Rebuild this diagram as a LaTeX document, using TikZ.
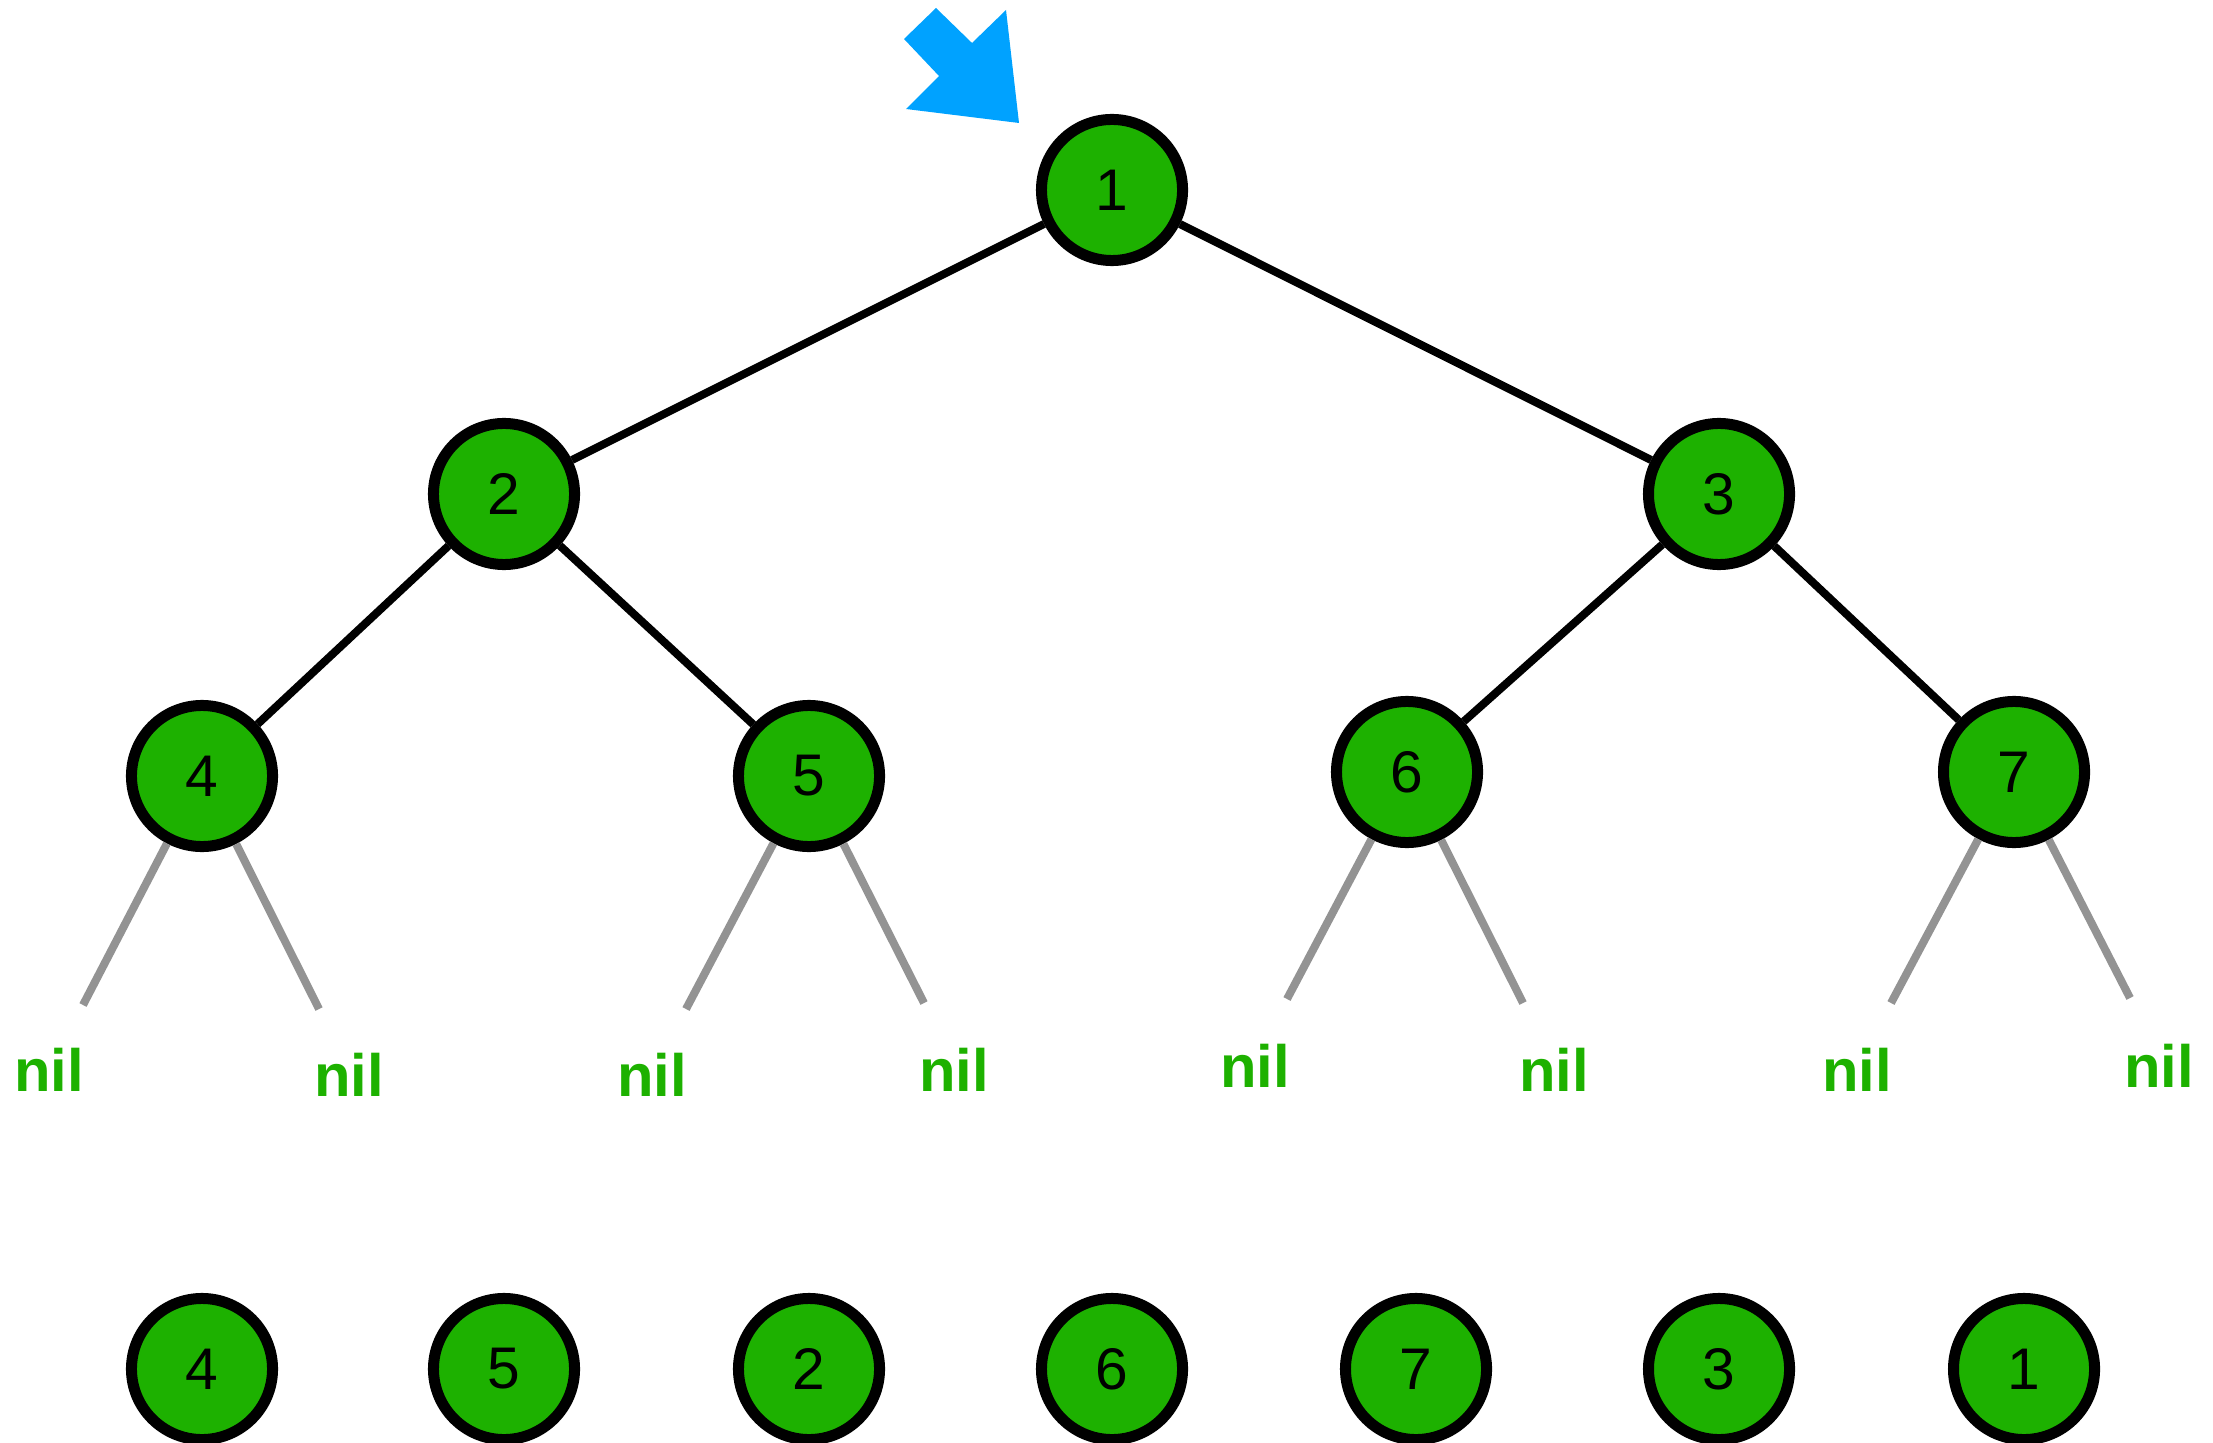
\documentclass[tikz,border=0pt]{standalone}
\usepackage{fontspec}
\setmainfont{Liberation Sans}
\definecolor{trgreen}{RGB}{29,177,0}
\definecolor{trgray}{RGB}{147,147,147}
\definecolor{trblue}{RGB}{0,162,255}
\usetikzlibrary{positioning}

\begin{document}
\begin{tikzpicture}[x=0.01cm,y=-0.01cm,
  trnode/.style={circle,draw=black,fill=trgreen,line width=0.11cm,minimum size=1.41cm,
    inner sep=0pt,font=\fontsize{16.7}{18}\selectfont},
  tredge/.style={line width=0.08cm,black},
  trnilline/.style={line width=0.08cm,trgray},
  trnil/.style={text=trgreen,font=\fontsize{17}{19}\selectfont\bfseries,inner sep=0pt}
]
  \useasboundingbox (0,0) rectangle (2213,1443);

  % Start arrow
  \fill[trblue] (1019,123) -- (906,109) -- (939,76) -- (904,39) -- (936,8)
    -- (972,43) -- (1006,10) -- cycle;

  % Tree
  \node[trnode] (n1) at (1112,190) {1};
  \node[trnode] (n2) at (504,494) {2};
  \node[trnode] (n3) at (1719,494) {3};
  \node[trnode] (n4) at (202,776) {4};
  \node[trnode] (n5) at (809,776) {5};
  \node[trnode] (n6) at (1407,772) {6};
  \node[trnode] (n7) at (2014,772) {7};

  \draw[tredge] (n1) -- (n2);
  \draw[tredge] (n1) -- (n3);
  \draw[tredge] (n2) -- (n4);
  \draw[tredge] (n2) -- (n5);
  \draw[tredge] (n3) -- (n6);
  \draw[tredge] (n3) -- (n7);

  % Leaves
  \coordinate (l4a) at (83,1005);   \coordinate (l4b) at (319,1009);
  \coordinate (l5a) at (686,1009);  \coordinate (l5b) at (924,1003);
  \coordinate (l6a) at (1287,999);  \coordinate (l6b) at (1523,1003);
  \coordinate (l7a) at (1891,1003); \coordinate (l7b) at (2130,998);
  \foreach \n in {4,5,6,7}{
    \draw[trnilline] (n\n) -- (l\n a);
    \draw[trnilline] (n\n) -- (l\n b);
  }

  \node[trnil] (nil4a) at (49,1070) {nil};
  \node[trnil] (nil4b) at (349,1075) {nil};
  \node[trnil] (nil5a) at (652,1075) {nil};
  \node[trnil] (nil5b) at (954,1070) {nil};
  \node[trnil] (nil6a) at (1255,1066) {nil};
  \node[trnil] (nil6b) at (1554,1070) {nil};
  \node[trnil] (nil7a) at (1857,1070) {nil};
  \node[trnil] (nil7b) at (2159,1066) {nil};

  % Postorder
  \node[trnode] (p1) at (202,1369) {4};
  \node[trnode] (p2) at (504,1369) {5};
  \node[trnode] (p3) at (809,1369) {2};
  \node[trnode] (p4) at (1112,1369) {6};
  \node[trnode] (p5) at (1416,1369) {7};
  \node[trnode] (p6) at (1719,1369) {3};
  \node[trnode] (p7) at (2024,1369) {1};
\end{tikzpicture}
\end{document}
